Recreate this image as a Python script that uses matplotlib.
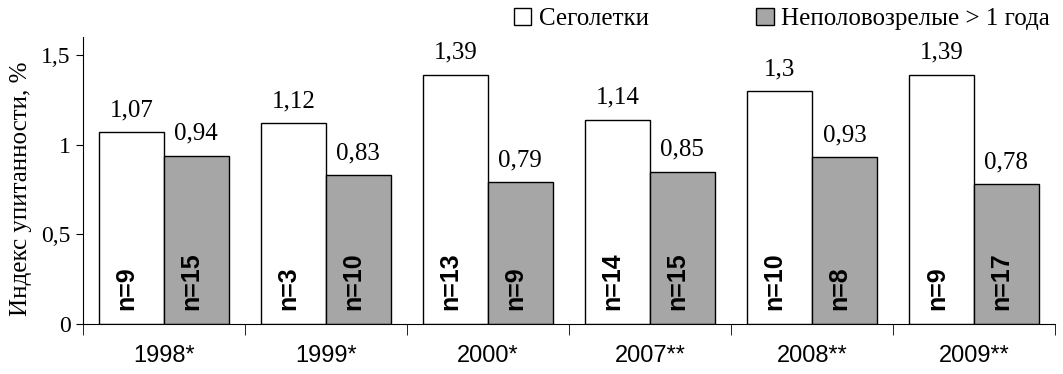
import matplotlib.pyplot as plt
import numpy as np
from matplotlib.patches import Patch
from matplotlib.ticker import MultipleLocator

# Индекс упитанности по годам
years = ['1998*', '1999*', '2000*', '2007**', '2008**', '2009**']
segoletki = [1.07, 1.12, 1.39, 1.14, 1.30, 1.39]
nepolovozr = [0.94, 0.83, 0.79, 0.85, 0.93, 0.78]
n_segoletki = [9, 3, 13, 14, 10, 9]
n_nepolovozr = [15, 10, 9, 15, 8, 17]

SERIF = 'Liberation Serif'
SANS = 'Liberation Sans'
GRAY = '#a6a6a6'


def fmt(v):
    s = f'{v:.2f}'.rstrip('0').rstrip('.')
    return s.replace('.', ',')


fig = plt.figure(figsize=(10.63, 3.74), dpi=100)
ax = fig.add_axes([0.078, 0.134, 0.9145, 0.766])

x = np.arange(len(years))
w = 0.4
b1 = ax.bar(x - w / 2, segoletki, w, color='white', edgecolor='black', linewidth=1)
b2 = ax.bar(x + w / 2, nepolovozr, w, color=GRAY, edgecolor='black', linewidth=1)

for bars, vals, ns in ((b1, segoletki, n_segoletki), (b2, nepolovozr, n_nepolovozr)):
    for r, v, n in zip(bars, vals, ns):
        cx = r.get_x() + r.get_width() / 2
        ax.annotate(fmt(v), (cx, v), xytext=(0, 8), textcoords='offset points',
                    ha='center', va='bottom', fontsize=18, family=SERIF)
        ax.text(cx - 0.03, 0.08, f'n={n}', rotation=90, ha='center', va='bottom',
                fontsize=18, fontweight='bold', family=SANS)

ax.set_xlim(-0.5, len(years) - 0.5)
ax.set_ylim(0, 1.6)
ax.set_yticks([0, 0.5, 1, 1.5])
ax.set_yticklabels(['0', '0,5', '1', '1,5'], family=SERIF, fontsize=17)
ax.set_xticks(x)
ax.set_xticklabels(years, family=SANS, fontsize=17)
ax.xaxis.set_minor_locator(MultipleLocator(1, offset=0.5))
ax.tick_params(axis='x', which='major', length=0, pad=15)
ax.tick_params(axis='x', which='minor', length=8, direction='out')
ax.tick_params(axis='y', length=5, direction='out', pad=4)
ax.spines['top'].set_visible(False)
ax.spines['right'].set_visible(False)

ax.set_ylabel('Индекс упитанности, %', family=SERIF, fontsize=18)
ax.yaxis.set_label_coords(-0.052, 0.47)

handles = [Patch(facecolor='white', edgecolor='black', label='Сеголетки'),
           Patch(facecolor=GRAY, edgecolor='black', label='Неполовозрелые > 1 года')]
ax.legend(handles=handles, ncol=2, loc='lower right', bbox_to_anchor=(1.005, 0.99),
          frameon=False, prop={'family': SERIF, 'size': 18}, columnspacing=4.3,
          handlelength=0.7, handleheight=0.7, handletextpad=0.3, borderaxespad=0)

fig.savefig('out.png', dpi=100)
